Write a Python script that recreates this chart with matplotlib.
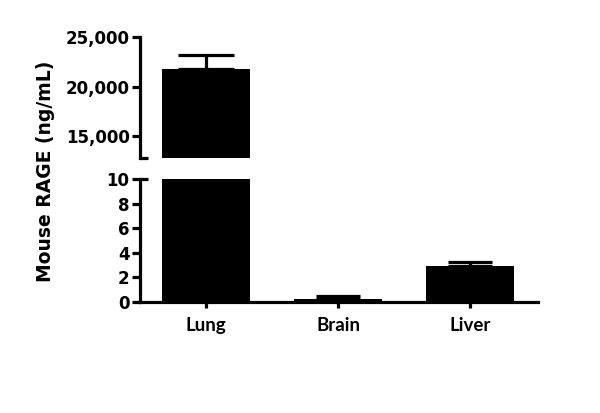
import matplotlib
matplotlib.use("Agg")
import matplotlib.pyplot as plt
import numpy as np

categories = ["Lung", "Brain", "Liver"]
means = [21790, 0.25, 2.95]
errors = [1410, 0.25, 0.30]
upper_ticks = [15000, 20000, 25000]
upper_tick_labels = ["15,000", "20,000", "25,000"]
lower_ticks = [0, 2, 4, 6, 8, 10]

fig = plt.figure(figsize=(6.0, 4.13), dpi=100)
L, R = 140/600, 538/600
ax_up = fig.add_axes([L, 1-158.3/413, R-L, (158.3-37)/413])
ax_lo = fig.add_axes([L, 1-301.7/413, R-L, (301.7-179.3)/413])

x = np.arange(len(categories))
lw = 2.3
tick_font = dict(family=["DejaVu Sans"], weight="bold", size=12)
cat_font = dict(family=["Lato", "DejaVu Sans"], weight="bold", size=13.5)

for ax in (ax_up, ax_lo):
    ax.bar(x, means, width=0.667, color="black", zorder=2)
    ax.set_xlim(-0.5, 2.515)
    for s in ("top", "right"):
        ax.spines[s].set_visible(False)
    ax.spines["left"].set_linewidth(lw)
    ax.spines["bottom"].set_linewidth(lw)
    ax.tick_params(axis="y", length=5.5, width=lw, pad=2)

# error bars (upper only)
for i in range(len(categories)):
    target = ax_up if i == 0 else ax_lo
    cs = 20 if i == 0 else 15.8
    target.errorbar(x[i], means[i], yerr=[[0], [errors[i]]], fmt="none",
                    ecolor="black", elinewidth=lw, capsize=cs, capthick=lw,
                    zorder=3)

ax_up.set_ylim(12750, 25000)
ax_up.spines["bottom"].set_visible(False)
ax_up.set_xticks([])
ax_up.set_yticks(upper_ticks)
ax_up.set_yticklabels(upper_tick_labels, **tick_font)
ax_up.plot([0, 0.02], [0, 0], transform=ax_up.transAxes, color="black",
           lw=lw, clip_on=False, solid_capstyle="butt")

ax_lo.set_ylim(0, 10)
ax_lo.set_yticks(lower_ticks)
ax_lo.set_yticklabels([str(t) for t in lower_ticks], **tick_font)
ax_lo.plot([0, 0.02], [1, 1], transform=ax_lo.transAxes, color="black",
           lw=lw, clip_on=False, solid_capstyle="butt")
ax_lo.set_xticks(x)
ax_lo.set_xticklabels(categories, **cat_font)
ax_lo.tick_params(axis="x", length=4, width=lw, pad=7)

fig.text(46/600, 1-171/413, "Mouse RAGE (ng/mL)", rotation=90,
         ha="center", va="center", family=["DejaVu Sans"],
         weight="bold", size=13.5)

fig.savefig("out.png", dpi=100)
